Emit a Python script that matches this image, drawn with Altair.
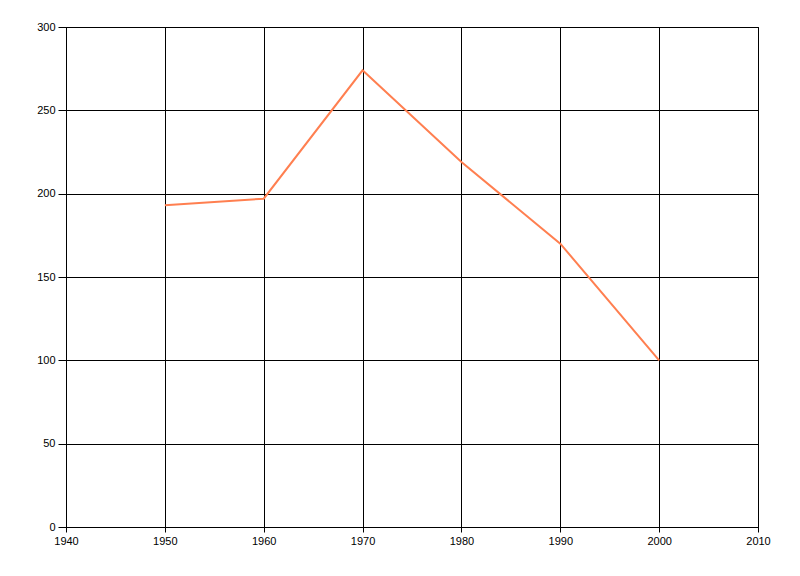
import pandas as pd
import altair as alt

# values
years = [1950, 1960, 1970, 1980, 1990, 2000]
values = [193, 197, 274, 219, 170, 100]

x_ticks = [1940, 1950, 1960, 1970, 1980, 1990, 2000, 2010]
y_ticks = [0, 50, 100, 150, 200, 250, 300]

df = pd.DataFrame({"year": years, "value": values})

c_width = 692
c_height = 500

chart = (
    alt.Chart(df)
    .mark_line(color="#FF7F50", strokeWidth=2)
    .encode(
        x=alt.X(
            "year:Q",
            scale=alt.Scale(domain=[1940, 2010], nice=False, zero=False),
            axis=alt.Axis(values=x_ticks, format="d", title=None, tickSize=5,
                          labelPadding=3, labelFlush=False),
        ),
        y=alt.Y(
            "value:Q",
            scale=alt.Scale(domain=[0, 300], nice=False),
            axis=alt.Axis(values=y_ticks, title=None, tickSize=8,
                          labelPadding=3),
        ),
    )
    .properties(
        width=c_width,
        height=c_height,
        autosize=alt.AutoSizeParams(type="none"),
        padding={"left": 58, "top": 19, "right": 30, "bottom": 40},
    )
)

chart = chart.configure_axis(
    grid=True,
    gridColor="black",
    gridOpacity=1,
    gridWidth=1,
    domainColor="black",
    domainWidth=1,
    tickColor="black",
    tickWidth=1,
    labelFont="Liberation Sans",
    labelFontSize=11,
    labelColor="#000000",
).configure_view(
    stroke="black",
    strokeWidth=1,
)

chart.save("out.html", embed_options={"renderer": "svg", "actions": False})
